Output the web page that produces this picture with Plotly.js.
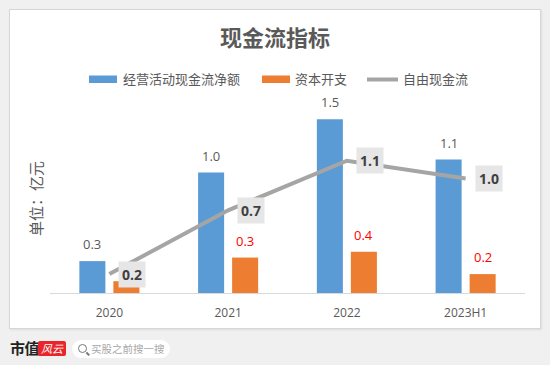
<!DOCTYPE html>
<html>
<head>
<meta charset="utf-8">
<script src="https://cdn.plot.ly/plotly-3.0.1.min.js"></script>
<style>
  html, body { margin: 0; padding: 0; width: 550px; height: 365px; overflow: hidden; background: #f0f0f0; font-family: "Noto Sans CJK SC", sans-serif; }
  #panel { position: absolute; left: 9px; top: 9px; width: 530px; height: 318px; background: #fff; border: 1px solid #d6d6d6; box-shadow: 1px 1px 2px rgba(0,0,0,0.08); }
  #chart { position: absolute; left: 0; top: 0; width: 550px; height: 365px; }
  #brand { position: absolute; left: 10px; top: 338px; font-size: 15px; font-weight: 700; color: #222; line-height: 20px; letter-spacing: -0.5px; }
  #logo { position: absolute; left: 38px; top: 341px; width: 28px; height: 15px; background: #e8262a; color: #fff; font-size: 11px; line-height: 15px; text-align: center; font-style: italic; border-radius: 2px; }
  #search { position: absolute; left: 72px; top: 340px; width: 98px; height: 18px; background: #fff; border-radius: 9px; }
  #icon { position: absolute; left: 6px; top: 4px; width: 7px; height: 7px; border: 1.5px solid #777; border-radius: 50%; }
  #icon:after { content: ""; position: absolute; left: 7px; top: 8px; width: 4px; height: 1.5px; background: #777; transform: rotate(45deg); }
  #stext { position: absolute; left: 19px; top: 0; font-size: 10.5px; line-height: 18px; color: #a8a8a8; white-space: nowrap; }
</style>
</head>
<body>
<div id="panel"></div>
<div id="chart"></div>
<div id="brand">市值</div>
<div id="logo">风云</div>
<div id="search"><div id="icon"></div><div id="stext">买股之前搜一搜</div></div>
<script>
// ---- data ----
const categories = ['2020', '2021', '2022', '2023H1'];
const seriesNames = ['经营活动现金流净额', '资本开支', '自由现金流'];
const operatingCF = [0.27, 1.02, 1.47, 1.13];
const capex = [0.10, 0.30, 0.35, 0.16];
const freeCF = [0.16, 0.70, 1.12, 0.97];
const operatingLabels = ['0.3', '1.0', '1.5', '1.1'];
const capexLabels = ['', '0.3', '0.4', '0.2']; // 2020 label is hidden behind the free-cash-flow label
const freeLabels = ['0.2', '0.7', '1.1', '1.0'];

// ---- geometry / styles ----
const L = 50, R = 525, T = 104, B = 293, WW = 550, HH = 365;
const PW = R - L, PH = B - T;
const px = x => (x - L) / PW;
const py = y => (B - y) / PH;
const BLUE = '#5b9bd5', ORANGE = '#ed7d31', GRAY = '#a5a5a5';
const FONT = 'Open Sans, Noto Sans CJK SC, sans-serif';
const CJK = 'Noto Sans CJK SC, sans-serif';
const slot = 34; // px offset of each bar from category centre

const traces = [
  { type: 'bar', name: seriesNames[0], x: categories, y: operatingCF, marker: { color: BLUE }, showlegend: false, hoverinfo: 'none' },
  { type: 'bar', name: seriesNames[1], x: categories, y: capex, marker: { color: ORANGE }, showlegend: false, hoverinfo: 'none' },
  { type: 'scatter', mode: 'lines', name: seriesNames[2], x: categories, y: freeCF, line: { color: GRAY, width: 4 }, showlegend: false, hoverinfo: 'none' }
];

const annotations = [];
categories.forEach((c, i) => {
  annotations.push({ x: i, y: operatingCF[i], xref: 'x', yref: 'y', text: operatingLabels[i], showarrow: false,
    xanchor: 'center', yanchor: 'bottom', xshift: -slot / 2, yshift: 6, font: { family: FONT, size: 13, color: '#595959' } });
});
categories.forEach((c, i) => {
  if (!capexLabels[i]) return;
  annotations.push({ x: i, y: capex[i], xref: 'x', yref: 'y', text: capexLabels[i], showarrow: false,
    xanchor: 'center', yanchor: 'bottom', xshift: slot / 2, yshift: 6, font: { family: FONT, size: 13, color: '#ff0000' } });
});
categories.forEach((c, i) => {
  annotations.push({ x: i, y: freeCF[i], xref: 'x', yref: 'y', text: '<b>' + freeLabels[i] + '</b>', showarrow: false,
    xanchor: 'left', yanchor: 'middle', xshift: 9, bgcolor: '#e7e6e6', borderpad: 3,
    font: { family: FONT, size: 14, color: '#404040' } });
});

// y-axis unit label
annotations.push({ xref: 'paper', yref: 'paper', x: px(35), y: py(199), text: '单位：亿元', textangle: -90, showarrow: false,
  xanchor: 'center', yanchor: 'middle', font: { family: CJK, size: 15, color: '#595959' } });

// legend (custom)
const legendY = 79;
const legendText = [121, 293, 401];
legendText.forEach((x, i) => {
  annotations.push({ xref: 'paper', yref: 'paper', x: px(x), y: py(legendY), text: seriesNames[i], showarrow: false,
    xanchor: 'left', yanchor: 'middle', font: { family: CJK, size: 13, color: '#595959' } });
});
const shapes = [
  { type: 'rect', xref: 'paper', yref: 'paper', x0: px(89), x1: px(117), y0: py(75.5), y1: py(83), fillcolor: BLUE, line: { width: 0 } },
  { type: 'rect', xref: 'paper', yref: 'paper', x0: px(262), x1: px(290), y0: py(75.5), y1: py(83), fillcolor: ORANGE, line: { width: 0 } },
  { type: 'line', xref: 'paper', yref: 'paper', x0: px(367), x1: px(398), y0: py(79.5), y1: py(79.5), line: { color: GRAY, width: 4 } }
];

const layout = {
  width: WW, height: HH,
  margin: { l: L, r: WW - R, t: T, b: HH - B, pad: 0 },
  paper_bgcolor: 'rgba(0,0,0,0)', plot_bgcolor: 'rgba(0,0,0,0)',
  title: { text: '<b>现金流指标</b>', x: 0.5, xref: 'container', xanchor: 'center', y: 1 - 38 / HH, yref: 'container', yanchor: 'middle',
    font: { family: CJK, size: 22, color: '#595959' } },
  barmode: 'group', bargap: 0.427, bargroupgap: 0.235,
  xaxis: { type: 'category', range: [-0.5, categories.length - 0.5], showline: true, linecolor: '#d9d9d9', linewidth: 1, ticks: '', showgrid: false, zeroline: false,
    ticklabelstandoff: 9, tickfont: { family: FONT, size: 12, color: '#595959' }, fixedrange: true },
  yaxis: { range: [0, 1.6], visible: false, showgrid: false, zeroline: false, fixedrange: true },
  annotations: annotations, shapes: shapes, showlegend: false
};

Plotly.newPlot('chart', traces, layout, { staticPlot: true, displayModeBar: false });
</script>
</body>
</html>
